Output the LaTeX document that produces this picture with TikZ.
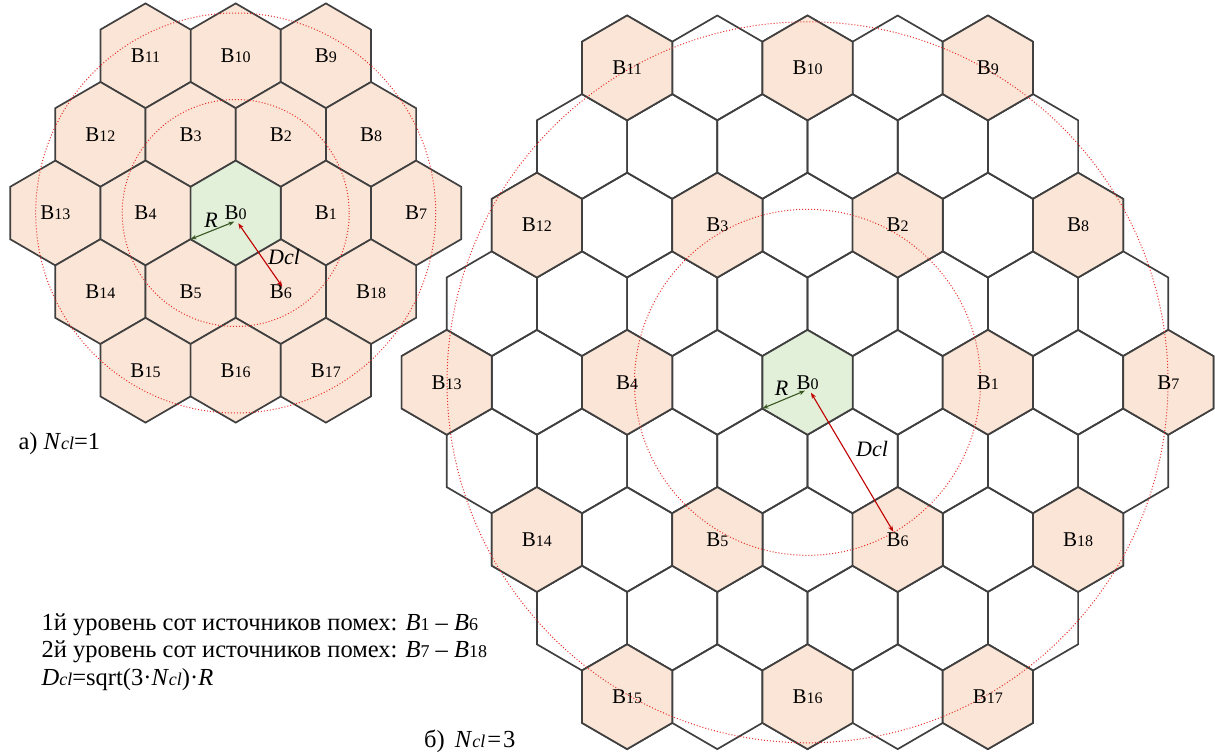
\documentclass[tikz,border=0pt]{standalone}
\usepackage{fontspec}
\setmainfont{Liberation Serif}
\usetikzlibrary{arrows.meta}

\definecolor{cellpeach}{HTML}{FBE5D6}
\definecolor{cellgreen}{HTML}{E2F0D9}
\definecolor{edgegray}{HTML}{404040}
\definecolor{arrgreen}{HTML}{385723}
\definecolor{arrred}{HTML}{C00000}
\definecolor{ringred}{HTML}{E8302A}

% pointy-top hexagonal cell around a centre point
\newcommand\hexat[1]{(#1) ++(0,-52.4) -- ++(45.1,26.2) -- ++(0,52.4) -- ++(-45.1,26.2) -- ++(-45.1,-26.2) -- ++(0,-52.4) -- cycle}
% cell label: B with reduced index digits
\newcommand\cellname[1]{B{\fontsize{16}{16}\selectfont #1}}
\newcommand\smallidx[1]{{\fontsize{18}{18}\selectfont #1}}
\newcommand\smallsub[1]{{\fontsize{18}{18}\selectfont\itshape #1}}

\tikzset{
  hexedge/.style={draw=edgegray, line width=1.7pt, line join=miter},
  cellfont/.style={font=\fontsize{21}{21}\selectfont, inner sep=0pt},
  ring/.style={draw=ringred, line width=1pt, dash pattern=on 1pt off 2pt},
  rarrow/.style={draw=arrred, line width=1.1pt, arrows={Stealth[length=6pt,width=4.5pt]-Stealth[length=6pt,width=4.5pt]}},
  garrow/.style={draw=arrgreen, line width=1.1pt, arrows={Stealth[length=6pt,width=4.5pt]-Stealth[length=6pt,width=4.5pt]}},
  mathlabel/.style={font=\fontsize{22}{22}\selectfont\itshape, inner sep=0pt},
  caption/.style={font=\fontsize{24.5}{24.5}\selectfont, inner sep=0pt, anchor=base west},
  notes/.style={font=\fontsize{24.5}{24.5}\selectfont, inner sep=0pt, anchor=base west}
}

\begin{document}
\begin{tikzpicture}[x=1pt,y=-1pt]
\useasboundingbox (0,0) rectangle (1215,753);

% ---------- (a) cluster size 1 ----------
\coordinate (ca) at (235.7,213);
\foreach \h/\r/\n in {0/-2/10,-2/-2/11,2/-2/9,
                      -3/-1/12,-1/-1/3,1/-1/2,3/-1/8,
                      -4/0/13,-2/0/4,2/0/1,4/0/7,
                      -3/1/14,-1/1/5,1/1/6,3/1/18,
                      -2/2/15,0/2/16,2/2/17}{
  \filldraw[hexedge, fill=cellpeach] \hexat{235.7+\h*45.1,213+\r*78.6};
}
\filldraw[hexedge, fill=cellgreen] \hexat{235.7,213};

\draw[ring] (ca) circle[radius=113.5];
\draw[ring] (ca) circle[radius=200];

\foreach \h/\r/\n in {0/-2/10,-2/-2/11,2/-2/9,
                      -3/-1/12,-1/-1/3,1/-1/2,3/-1/8,
                      -4/0/13,-2/0/4,0/0/0,2/0/1,4/0/7,
                      -3/1/14,-1/1/5,1/1/6,3/1/18,
                      -2/2/15,0/2/16,2/2/17}{
  \node[cellfont] (a\n) at (235.7+\h*45.1,213+\r*78.6) {\cellname{\n}};
}

\coordinate (aLL) at (190.6,239.2);
\coordinate (aHubG) at (234.3,221.7);
\coordinate (aHubR) at (238.3,223.3);
\coordinate (aEnd) at (282.3,286.7);
\draw[garrow] (aLL) -- (aHubG);
\draw[rarrow] (aHubR) -- (aEnd);
\node[mathlabel] (aR) at (211,220) {R};
\node[mathlabel] (aD) at (284,256.7) {Dcl};

\node[caption] (capA) at (18.3,449) {a) \textit{N}\smallsub{cl}=1};

% ---------- (b) cluster size 3 ----------
\coordinate (cb) at (807.5,382.3);
\foreach \r in {-4,...,4}{
  \pgfmathtruncatemacro\hm{8-abs(\r)}
  \pgfmathtruncatemacro\hs{-\hm+2}
  \foreach \h in {-\hm,\hs,...,\hm}{
    \draw[hexedge] \hexat{807.5+\h*45.1,382.3+\r*78.6};
  }
}
\foreach \h/\r/\n in {0/-4/10,-4/-4/11,4/-4/9,
                      -6/-2/12,-2/-2/3,2/-2/2,6/-2/8,
                      -8/0/13,-4/0/4,4/0/1,8/0/7,
                      -6/2/14,-2/2/5,2/2/6,6/2/18,
                      -4/4/15,0/4/16,4/4/17}{
  \filldraw[hexedge, fill=cellpeach] \hexat{807.5+\h*45.1,382.3+\r*78.6};
}
\filldraw[hexedge, fill=cellgreen] \hexat{807.5,382.3};

\draw[ring] (cb) circle[radius=173];
\draw[ring] (cb) circle[radius=360.5];

\foreach \h/\r/\n in {0/-4/10,-4/-4/11,4/-4/9,
                      -6/-2/12,-2/-2/3,2/-2/2,6/-2/8,
                      -8/0/13,-4/0/4,0/0/0,4/0/1,8/0/7,
                      -6/2/14,-2/2/5,2/2/6,6/2/18,
                      -4/4/15,0/4/16,4/4/17}{
  \node[cellfont] (b\n) at (807.5+\h*45.1,382.3+\r*78.6) {\cellname{\n}};
}

\coordinate (bLL) at (762.4,408.5);
\coordinate (bHubG) at (805,390.7);
\coordinate (bHubR) at (811,392.7);
\coordinate (bEnd) at (893.3,531.7);
\draw[garrow] (bLL) -- (bHubG);
\draw[rarrow] (bHubR) -- (bEnd);
\node[mathlabel] (bR) at (781.7,388.3) {R};
\node[mathlabel] (bD) at (872,449) {Dcl};

\node[caption] (capB) at (424,747) {б)\hspace{10pt}\textit{N}\smallsub{cl}\hspace{2pt}=\hspace{2pt}3};

% ---------- notes ----------
\node[notes] (note1) at (41.5,630) {1й уровень сот источников помех: \textit{B}\smallidx{1} – \textit{B}\smallidx{6}};
\node[notes] (note2) at (41.5,657.5) {2й уровень сот источников помех: \textit{B}\smallidx{7} – \textit{B}\smallidx{18}};
\node[notes] (note3) at (41.5,685) {\textit{D}\smallsub{cl}=sqrt(3·\textit{N}\smallsub{cl})·\textit{R}};
\end{tikzpicture}
\end{document}
